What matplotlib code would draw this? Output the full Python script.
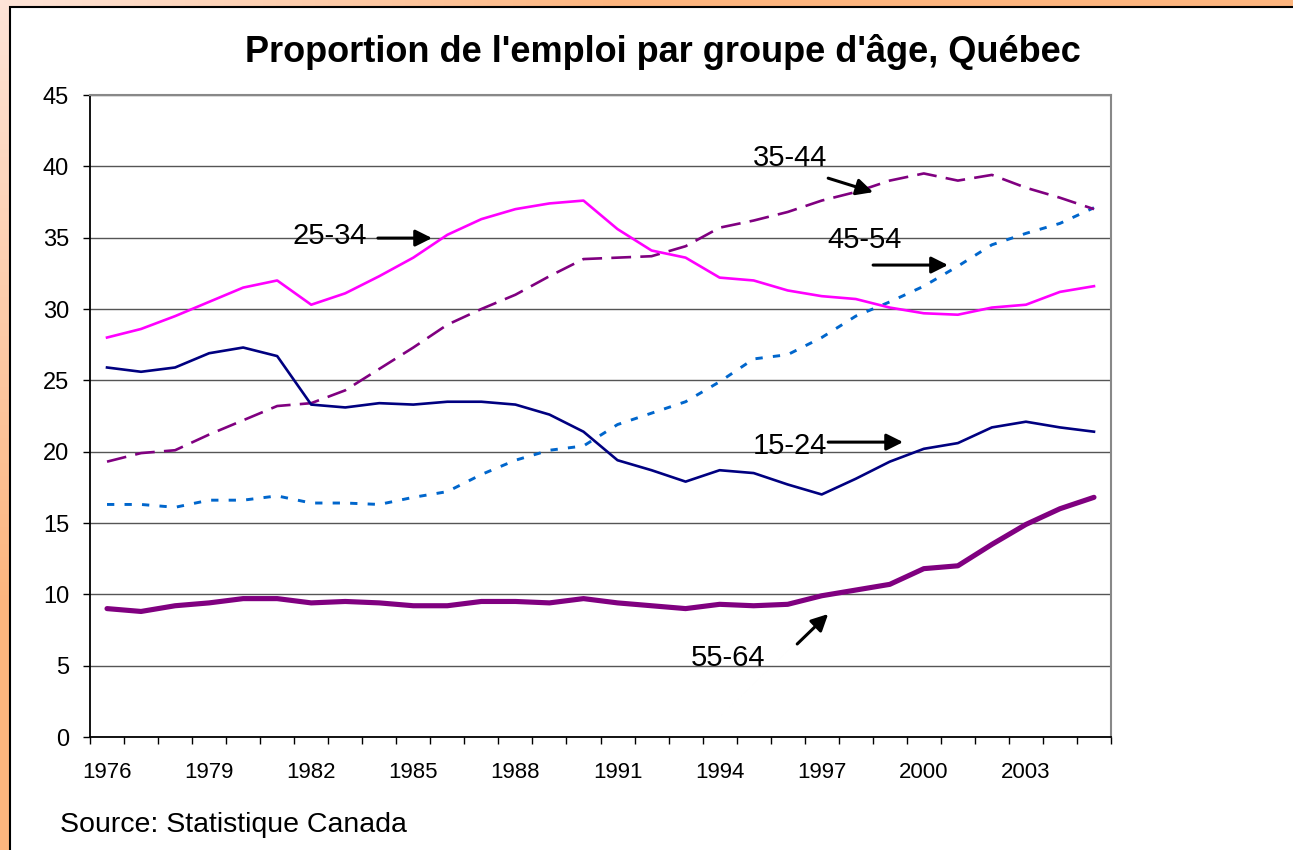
import numpy as np
import matplotlib as mpl
mpl.use('Agg')
import matplotlib.pyplot as plt
import matplotlib.patches as patches
from matplotlib import font_manager

######################
## data
######################

years = list(range(1976, 2006))

age_15_24 = [25.9, 25.6, 25.9, 26.9, 27.3, 26.7, 23.3, 23.1, 23.4, 23.3,
             23.5, 23.5, 23.3, 22.6, 21.4, 19.4, 18.7, 17.9, 18.7, 18.5,
             17.7, 17.0, 18.1, 19.3, 20.2, 20.6, 21.7, 22.1, 21.7, 21.4]
age_25_34 = [28.0, 28.6, 29.5, 30.5, 31.5, 32.0, 30.3, 31.1, 32.3, 33.6,
             35.2, 36.3, 37.0, 37.4, 37.6, 35.6, 34.1, 33.6, 32.2, 32.0,
             31.3, 30.9, 30.7, 30.1, 29.7, 29.6, 30.1, 30.3, 31.2, 31.6]
age_35_44 = [19.3, 19.9, 20.1, 21.2, 22.2, 23.2, 23.4, 24.3, 25.8, 27.3,
             28.9, 30.0, 31.0, 32.3, 33.5, 33.6, 33.7, 34.4, 35.7, 36.2,
             36.8, 37.6, 38.2, 39.0, 39.5, 39.0, 39.4, 38.5, 37.8, 37.0]
age_45_54 = [16.3, 16.3, 16.1, 16.6, 16.6, 16.9, 16.4, 16.4, 16.3, 16.8,
             17.2, 18.4, 19.4, 20.1, 20.4, 21.9, 22.7, 23.5, 24.9, 26.5,
             26.8, 28.0, 29.5, 30.5, 31.6, 33.0, 34.5, 35.3, 36.0, 37.1]
age_55_64 = [9.0, 8.8, 9.2, 9.4, 9.7, 9.7, 9.4, 9.5, 9.4, 9.2,
             9.2, 9.5, 9.5, 9.4, 9.7, 9.4, 9.2, 9.0, 9.3, 9.2,
             9.3, 9.9, 10.3, 10.7, 11.8, 12.0, 13.5, 14.9, 16.0, 16.8]

tick_labels = [str(y) if (y - 1976) % 3 == 0 else '' for y in years]

######################
## setup figure
######################

plt.rcParams['font.family'] = ['Liberation Sans', 'DejaVu Sans']

names = {f.name for f in font_manager.fontManager.ttflist}
narrow = 'Liberation Sans Narrow' if 'Liberation Sans Narrow' in names else 'Liberation Sans'

W, H = 1293, 850
fig = plt.figure(figsize=(W / 100, H / 100), dpi=100)

## orange gradient background
bg = fig.add_axes([0, 0, 1, 1])
bg.set_axis_off()
yy, xx = np.mgrid[0:1:200j, 0:1:300j]
t = np.clip(np.sqrt((xx * 1.5) ** 2 + (yy * 1.0) ** 2) * 1.4, 0, 1)
c0 = np.array([253, 228, 216]) / 255.0
c1 = np.array([253, 181, 126]) / 255.0
grad = c0[None, None, :] * (1 - t[..., None]) + c1[None, None, :] * t[..., None]
bg.imshow(grad, extent=[0, 1, 0, 1], aspect='auto', origin='upper')
bg.set_xlim(0, 1)
bg.set_ylim(0, 1)

## white panel with black border
bg.add_patch(patches.Rectangle((10 / W, -0.05), 1.1, 1 - 7 / H + 0.05,
                               facecolor='white', edgecolor='black', lw=1.5))

######################
## plot
######################

ax = fig.add_axes([90 / W, 1 - 737 / H, (1111 - 90) / W, (737 - 95) / H])
x = np.arange(len(years))

ax.plot(x, age_45_54, color='#0066CC', lw=2.1, linestyle=(0, (2.5, 3.5)), zorder=3)
ax.plot(x, age_35_44, color='#800080', lw=1.9, linestyle=(0, (7.5, 3.5)), zorder=3)
ax.plot(x, age_25_34, color='#FF00FF', lw=1.9, zorder=3)
ax.plot(x, age_15_24, color='#000080', lw=1.9, zorder=3)
ax.plot(x, age_55_64, color='#800080', lw=3.7, solid_capstyle='round', zorder=3)

ax.set_xlim(-0.5, len(years) - 0.5)
ax.set_ylim(0, 45)
ax.set_yticks(range(0, 46, 5))

ax.set_xticks(x)
ax.set_xticklabels(tick_labels, fontfamily=[narrow, 'DejaVu Sans'])
ax.set_xticks(np.arange(-0.5, len(years), 1.0), minor=True)
ax.tick_params(axis='x', which='major', length=0, pad=18, labelsize=16)
ax.tick_params(axis='x', which='minor', length=5, width=1, direction='out')
ax.tick_params(axis='y', length=5, width=1, pad=10, labelsize=17)

ax.grid(which='major', axis='y', color='#555555', lw=1)
for s in ['top', 'right']:
    ax.spines[s].set_color('#888888')
    ax.spines[s].set_linewidth(1.5)
for s in ['left', 'bottom']:
    ax.spines[s].set_color('black')
    ax.spines[s].set_linewidth(1.3)

######################
## annotations
######################

arrow = dict(arrowstyle='-|>', lw=2.2, color='black', mutation_scale=25, shrinkA=0, shrinkB=0)
lab = dict(fontsize=21, ha='center', va='center', zorder=5)

ax.text(6.55, 35.1, '25-34', **lab)
ax.annotate('', xy=(9.55, 34.97), xytext=(7.96, 34.97), arrowprops=arrow)

ax.text(20.07, 40.57, '35-44', **lab)
ax.annotate('', xy=(22.51, 38.19), xytext=(21.19, 39.17), arrowprops=arrow)

ax.text(22.27, 34.83, '45-54', **lab)
ax.annotate('', xy=(24.71, 33.08), xytext=(22.51, 33.08), arrowprops=arrow)

ax.text(20.07, 20.39, '15-24', **lab)
ax.annotate('', xy=(23.39, 20.67), xytext=(21.19, 20.67), arrowprops=arrow)

ax.text(18.25, 5.54, '55-64', **lab)
ax.annotate('', xy=(21.19, 8.62), xytext=(20.28, 6.52), arrowprops=arrow)

######################
## titles
######################

fig.text(663 / W, 1 - 52 / H, "Proportion de l'emploi par groupe d'âge, Québec",
         ha='center', va='center', fontsize=26, fontweight='bold')
fig.text(60 / W, 1 - 825 / H, 'Source: Statistique Canada',
         ha='left', va='center', fontsize=20.5)

plt.savefig('out.png', dpi=100)
